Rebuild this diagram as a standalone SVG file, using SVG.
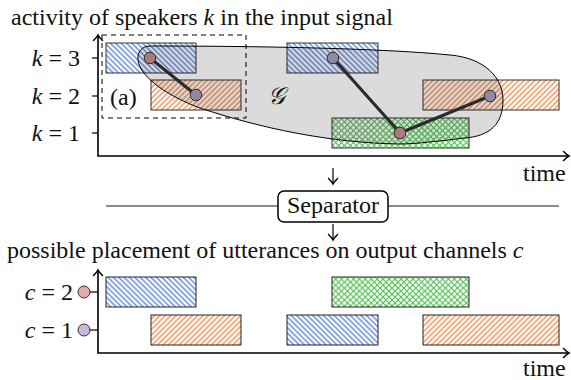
<svg xmlns="http://www.w3.org/2000/svg" width="571" height="380" viewBox="0 0 571 380">
<style>
.t{font-family:'Liberation Serif','DejaVu Serif',serif;font-size:24px;fill:#111}
.it{font-style:italic}
.ax{fill:none;stroke:#000;stroke-width:1.6}
.tick{stroke:#000;stroke-width:1.2}
.r1{stroke:#333;stroke-width:1}
.r2{stroke:#222;stroke-width:1}
.edge{stroke:#333;stroke-width:3.2;stroke-linecap:round}
.nd{stroke:#333;stroke-width:1}
.pk{fill:#c79090}
.pu{fill:#ad9ec0}
.lpk{fill:#e8a8a8}
.lpu{fill:#c8b8de}
</style>
<defs>
<marker id="ah" viewBox="-7 -6 9 12" markerWidth="9" markerHeight="12" refX="0" refY="0" orient="auto-start-reverse" markerUnits="userSpaceOnUse">
<path d="M-5.5,-4.5 Q-2,-1 0,0 Q-2,1 -5.5,4.5" fill="none" stroke="#000" stroke-width="1.5" stroke-linecap="round"/>
</marker>
<pattern id="hb" width="3.8" height="3.8" patternUnits="userSpaceOnUse" patternTransform="rotate(-45)">
<line x1="1.9" y1="0" x2="1.9" y2="3.8" stroke="#2f66d6" stroke-width="1.1"/>
</pattern>
<pattern id="ho" width="3.8" height="3.8" patternUnits="userSpaceOnUse" patternTransform="rotate(45)">
<line x1="1.9" y1="0" x2="1.9" y2="3.8" stroke="#f0701e" stroke-width="1.1"/>
</pattern>
<pattern id="hg" width="4.2" height="4.2" patternUnits="userSpaceOnUse" patternTransform="rotate(45)">
<line x1="2.1" y1="0" x2="2.1" y2="4.2" stroke="#4fc04f" stroke-width="1.1"/>
<line x1="0" y1="2.1" x2="4.2" y2="2.1" stroke="#4fc04f" stroke-width="1.1"/>
</pattern>
</defs>
<rect width="571" height="380" fill="#fff"/>

<g font-family="Liberation Serif, DejaVu Serif, serif" font-size="24">
<text class="t" x="11" y="25">activity of speakers <tspan class="it">k</tspan> in the input signal</text>

<g id="top-axes">
<path class="ax" d="M98,35 V156 H569" marker-start="url(#ah)" marker-end="url(#ah)"/>
<line class="tick" x1="92" y1="58" x2="98" y2="58"/>
<line class="tick" x1="92" y1="96" x2="98" y2="96"/>
<line class="tick" x1="92" y1="133" x2="98" y2="133"/>
<text class="t" x="80" y="66" text-anchor="end"><tspan class="it">k</tspan> = 3</text>
<text class="t" x="80" y="104" text-anchor="end"><tspan class="it">k</tspan> = 2</text>
<text class="t" x="80" y="141" text-anchor="end"><tspan class="it">k</tspan> = 1</text>
<text class="t" x="523" y="181">time</text>
</g>

<g id="activity">
<rect class="r1" x="106" y="43" width="90" height="30" fill="url(#hb)"/>
<rect class="r1" x="287" y="43" width="91" height="30" fill="url(#hb)"/>
<rect class="r1" x="151" y="80" width="90" height="30" fill="url(#ho)"/>
<rect class="r1" x="423" y="80" width="136" height="30" fill="url(#ho)"/>
<rect class="r1" x="332" y="118" width="137" height="30" fill="url(#hg)"/>
</g>

<g id="region-a">
<rect x="102" y="35" width="144" height="83" fill="none" stroke="#000" stroke-width="1" stroke-dasharray="5,4"/>
<text class="t" x="110" y="105">(a)</text>
</g>

<g id="connectors">
<line class="edge" x1="150" y1="58" x2="196" y2="95"/>
<line class="edge" x1="333" y1="58" x2="400" y2="133"/>
<line class="edge" x1="400" y1="133" x2="490" y2="96"/>
</g>

<g id="n1"><circle class="nd pk" cx="150" cy="58" r="5.8"/></g>
<g id="n2"><circle class="nd pu" cx="196" cy="95" r="5.8"/></g>
<g id="n3"><circle class="nd pu" cx="333" cy="58" r="5.8"/></g>
<g id="n4"><circle class="nd pk" cx="400" cy="133" r="5.8"/></g>
<g id="n5"><circle class="nd pu" cx="490" cy="96" r="5.8"/></g>

<g id="graph-G">
<path d="M150,46 C250,46 380,48 450,55 C485,58 503,78 503,100 C503,124 490,136 465,138 C440,141 415,144 400,144 C330,143 260,128 200,108 C170,97 140,78 138,60 C137,52 142,46 150,46 Z" fill="#000" fill-opacity="0.14" stroke="#000" stroke-width="1"/>
<text class="t it" x="268" y="104">𝒢</text>
</g>

<g id="separator">
<line x1="106" y1="206" x2="278" y2="206" stroke="#666" stroke-width="1.3"/>
<line x1="388" y1="206" x2="559" y2="206" stroke="#666" stroke-width="1.3"/>
<rect x="278" y="191" width="110" height="31" rx="6" fill="#fff" stroke="#000" stroke-width="1.5"/>
<text class="t" x="333" y="213" text-anchor="middle">Separator</text>
<line x1="333" y1="168" x2="333" y2="184" stroke="#000" stroke-width="1.2" marker-end="url(#ah)"/>
<line x1="333" y1="224" x2="333" y2="240" stroke="#000" stroke-width="1.2" marker-end="url(#ah)"/>
</g>

<text class="t" x="7" y="258">possible placement of utterances on output channels <tspan class="it">c</tspan></text>

<g id="bottom-axes">
<path class="ax" d="M98,270 V353 H569" marker-start="url(#ah)" marker-end="url(#ah)"/>
<line class="tick" x1="90" y1="292" x2="98" y2="292"/>
<line class="tick" x1="90" y1="330" x2="98" y2="330"/>
<text class="t" x="73" y="300" text-anchor="end"><tspan class="it">c</tspan> = 2</text>
<text class="t" x="73" y="338" text-anchor="end"><tspan class="it">c</tspan> = 1</text>
<text class="t" x="523" y="376">time</text>
</g>
<g id="ch2"><circle class="nd lpk" cx="84" cy="292" r="6"/></g>
<g id="ch1"><circle class="nd lpu" cx="84" cy="330" r="6"/></g>

<g id="output">
<rect class="r2" x="106" y="277" width="90" height="30" fill="url(#hb)"/>
<rect class="r2" x="332" y="277" width="137" height="30" fill="url(#hg)"/>
<rect class="r2" x="151" y="315" width="90" height="30" fill="url(#ho)"/>
<rect class="r2" x="287" y="315" width="91" height="30" fill="url(#hb)"/>
<rect class="r2" x="423" y="315" width="136" height="30" fill="url(#ho)"/>
</g>
</g>
</svg>
